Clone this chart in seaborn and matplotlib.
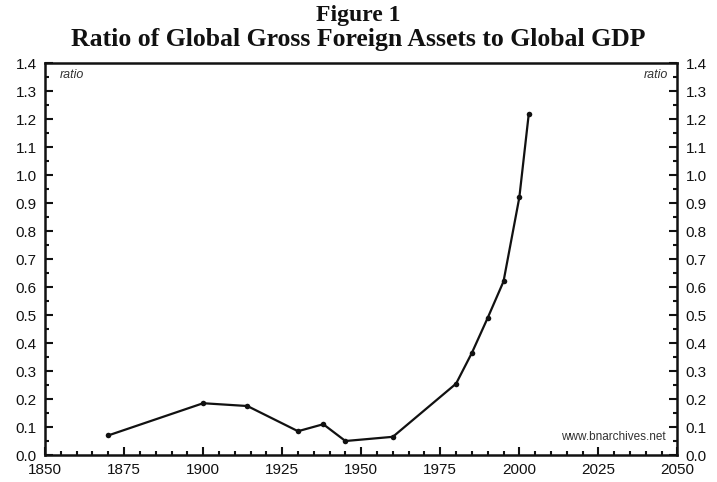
"""Ratio of global gross foreign assets to global GDP, 1870-2003."""

import matplotlib.pyplot as plt
import pandas as pd
import seaborn as sns
from matplotlib.ticker import MultipleLocator

YEARS = [1870, 1900, 1914, 1930, 1938, 1945, 1960, 1980, 1985, 1990, 1995, 2000, 2003]
RATIO = [0.07, 0.185, 0.175, 0.085, 0.11, 0.05, 0.065, 0.255, 0.365, 0.49, 0.62, 0.92, 1.22]
Y_TICKS = [round(0.1 * i, 1) for i in range(15)]
X_TICKS = [1850, 1875, 1900, 1925, 1950, 1975, 2000, 2025, 2050]


def main() -> None:
    sns.set_theme(style="ticks")
    plt.rcParams["font.family"] = ["Liberation Sans", "DejaVu Sans"]

    data = pd.DataFrame({"year": YEARS, "ratio": RATIO})
    fig = plt.figure(figsize=(7.17, 4.82), dpi=100)
    ax = fig.add_axes([0.0628, 0.056, 0.882, 0.813])

    sns.lineplot(
        data=data, x="year", y="ratio", ax=ax, color="#111111",
        linewidth=1.6, marker="o", markersize=4, markeredgewidth=0,
    )

    ax.set_xlim(1850, 2050)
    ax.set_ylim(0, 1.4)
    ax.set_xticks(X_TICKS)
    ax.set_yticks(Y_TICKS)
    ax.set_yticklabels([f"{v:.1f}" for v in Y_TICKS])
    ax.xaxis.set_minor_locator(MultipleLocator(5))
    ax.yaxis.set_minor_locator(MultipleLocator(0.05))
    ax.tick_params(which="both", direction="in", top=False, right=True,
                   labelright=True, labelsize=11, colors="#111111", width=1.5, pad=6)
    ax.tick_params(which="major", length=6)
    ax.tick_params(which="minor", length=3)
    for spine in ax.spines.values():
        spine.set_linewidth(1.8)
        spine.set_color("#111111")
    ax.set_xlabel("")
    ax.set_ylabel("")

    ax.text(0.024, 0.985, "ratio", transform=ax.transAxes, fontsize=9,
            style="italic", ha="left", va="top", color="#333333")
    ax.text(0.985, 0.985, "ratio", transform=ax.transAxes, fontsize=9,
            style="italic", ha="right", va="top", color="#333333")
    ax.text(0.982, 0.03, "www.bnarchives.net", transform=ax.transAxes, fontsize=8.5,
            ha="right", va="bottom", color="#333333")

    fig.text(0.5, 0.968, "Figure 1", ha="center", va="center", fontsize=17,
             family="Liberation Serif", fontweight="bold", color="#111111")
    fig.text(0.5, 0.918, "Ratio of Global Gross Foreign Assets to Global GDP",
             ha="center", va="center", fontsize=18.5, family="Liberation Serif",
             fontweight="bold", color="#111111")

    fig.savefig("out.png", dpi=100)
    plt.close(fig)


if __name__ == "__main__":
    main()
